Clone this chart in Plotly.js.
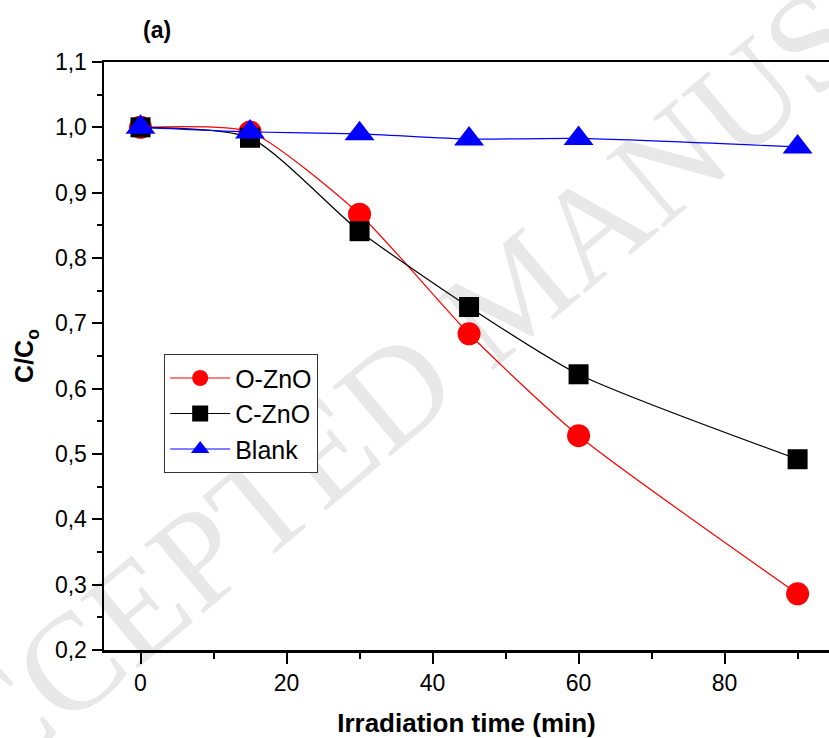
<!DOCTYPE html>
<html>
<head>
<meta charset="utf-8">
<script src="https://cdn.plot.ly/plotly-3.0.1.min.js"></script>
<style>html,body{margin:0;padding:0;background:#fff;}</style>
</head>
<body>
<div id="chart" style="width:829px;height:738px;"></div>
<script>
const time = [0, 15, 30, 45, 60, 90];
const oZnO = [1.0, 0.993, 0.867, 0.684, 0.528, 0.286];
const cZnO = [1.0, 0.984, 0.841, 0.725, 0.622, 0.492];
const blank = [1.0, 0.993, 0.990, 0.982, 0.983, 0.970];
const seriesNames = ['O-ZnO', 'C-ZnO', 'Blank'];
const watermark = 'ACCEPTED MANUSCRIPT';

const FONT = 'Liberation Sans, Arial, sans-serif';

const traces = [
  {x: time, y: oZnO, name: seriesNames[0], mode: 'lines+markers',
   line: {color: '#ff0000', width: 1.2, shape: 'spline', smoothing: 0.6},
   marker: {symbol: 'circle', size: 23, color: '#ff0000'}},
  {x: time, y: cZnO, name: seriesNames[1], mode: 'lines+markers',
   line: {color: '#000000', width: 1.2, shape: 'spline', smoothing: 0.65},
   marker: {symbol: 'square', size: 20, color: '#000000'}},
  {x: time, y: blank, name: seriesNames[2], mode: 'lines+markers',
   line: {color: '#0000ff', width: 1.2, shape: 'spline', smoothing: 0.6},
   marker: {symbol: 'triangle-up', size: 26, color: '#0000ff'}}
];

const layout = {
  width: 829, height: 738,
  margin: {l: 104, r: 0, t: 62, b: 88},
  paper_bgcolor: '#fff', plot_bgcolor: '#fff',
  separators: ', ',
  showlegend: true,
  font: {family: FONT, color: '#000', size: 23},
  xaxis: {
    range: [-5, 94.3], dtick: 20, tick0: 0,
    showgrid: false, zeroline: false,
    showline: true, linewidth: 2.5, linecolor: '#000', mirror: true,
    ticks: 'outside', ticklen: 11, tickwidth: 2, tickcolor: '#000',
    minor: {dtick: 10, tick0: 0, ticklen: 6, tickwidth: 2, tickcolor: '#000', showgrid: false},
    tickfont: {family: FONT, size: 23},
    title: {text: '<b>Irradiation time (min)</b>', font: {family: FONT, size: 26}, standoff: 20}
  },
  yaxis: {
    range: [0.2, 1.1], dtick: 0.1, tick0: 0.2, tickformat: '.1f',
    showgrid: false, zeroline: false,
    showline: true, linewidth: 2.5, linecolor: '#000', mirror: false,
    ticks: 'outside', ticklen: 10, tickwidth: 2, tickcolor: '#000',
    minor: {dtick: 0.05, tick0: 0.2, ticklen: 5, tickwidth: 2, tickcolor: '#000', showgrid: false},
    tickfont: {family: FONT, size: 23},
    title: {text: '<b>C/C<sub>o</sub></b>', font: {family: FONT, size: 25}, standoff: 14}
  },
  legend: {
    x: 0.083, y: 0.503, xanchor: 'left', yanchor: 'top',
    bgcolor: '#fff', bordercolor: '#333', borderwidth: 1,
    font: {family: FONT, size: 25},
    tracegroupgap: 0, itemwidth: 60
  },
  shapes: [
    {type: 'line', xref: 'paper', yref: 'paper', layer: 'below',
     x0: 0.236, y0: 0.298, x1: 0.870, y1: 0.961,
     line: {color: 'rgba(0,0,0,0)', width: 1},
     label: {text: watermark, textposition: 'middle', textangle: -40,
             xanchor: 'center', yanchor: 'middle', padding: 0,
             font: {family: 'Liberation Serif, Times New Roman, serif', size: 138, color: '#e8e8e8'}}}
  ],
  annotations: [
    {text: '<b>(a)</b>', xref: 'paper', yref: 'paper', x: 0.073, y: 1.0, yshift: 32,
     xanchor: 'center', yanchor: 'middle', showarrow: false,
     font: {family: FONT, size: 23, color: '#000'}}
  ]
};

Plotly.newPlot('chart', traces, layout, {displayModeBar: false, staticPlot: true});
</script>
</body>
</html>
